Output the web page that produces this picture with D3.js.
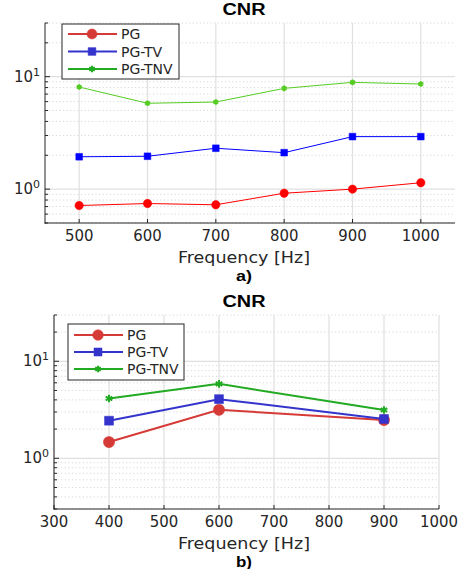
<!DOCTYPE html>
<html>
<head>
<meta charset="utf-8">
<script src="https://cdn.jsdelivr.net/npm/d3@7"></script>
<style>
  body { margin: 0; background: #fff; }
  text { font-family: "DejaVu Sans", sans-serif; fill: #262626; }
</style>
</head>
<body>
<svg id="chart" width="464" height="569"></svg>
<script>
// panel a)
var freqA = [500, 600, 700, 800, 900, 1000];
var pgA = [0.715, 0.745, 0.726, 0.92, 1.0, 1.14];
var pgTvA = [1.94, 1.96, 2.31, 2.11, 2.93, 2.93];
var pgTnvA = [8.09, 5.8, 5.95, 7.87, 8.9, 8.6];
var xTicksA = [500, 600, 700, 800, 900, 1000];

// panel b)
var freqB = [400, 600, 900];
var pgB = [1.47, 3.16, 2.48];
var pgTvB = [2.44, 4.07, 2.54];
var pgTnvB = [4.13, 5.85, 3.14];
var xTicksB = [300, 400, 500, 600, 700, 800, 900, 1000];

var seriesNames = ["PG", "PG-TV", "PG-TNV"];
var markers = [d3.symbolCircle, d3.symbolSquare, d3.symbolAsterisk];
var legendColors = ["#d63a36", "#3434cc", "#22aa22"];

var svg = d3.select("#chart");

function drawPanel(opt) {
  var g = svg.append("g");
  var x = d3.scaleLinear().domain(opt.xDomain).range([opt.left, opt.right]);
  var y = d3.scaleLog().domain(opt.yDomain).range([opt.bottom, opt.top]);

  // minor grid
  var minor = [];
  for (var e = -1; e <= 1; e++) {
    for (var m = 2; m <= 9; m++) {
      var v = m * Math.pow(10, e);
      if (v >= opt.yDomain[0] - 1e-9 && v <= opt.yDomain[1] + 1e-9) minor.push(v);
    }
  }
  g.selectAll(".minor").data(minor).enter().append("line")
    .attr("x1", opt.left).attr("x2", opt.right)
    .attr("y1", d => y(d)).attr("y2", d => y(d))
    .attr("stroke", "#d8d8d8").attr("stroke-width", 1)
    .attr("stroke-dasharray", "1.2,2.4");

  // major grid
  g.selectAll(".majy").data([1, 10]).enter().append("line")
    .attr("x1", opt.left).attr("x2", opt.right)
    .attr("y1", d => y(d)).attr("y2", d => y(d))
    .attr("stroke", "#e0e0e0").attr("stroke-width", 1.2);
  g.selectAll(".majx").data(opt.xTicks).enter().append("line")
    .attr("x1", d => x(d)).attr("x2", d => x(d))
    .attr("y1", opt.top).attr("y2", opt.bottom)
    .attr("stroke", "#e0e0e0").attr("stroke-width", 1.2);

  // axes
  g.append("line").attr("x1", opt.left).attr("x2", opt.left)
    .attr("y1", opt.top).attr("y2", opt.bottom + 0.5)
    .attr("stroke", "#262626").attr("stroke-width", 1);
  g.append("line").attr("x1", opt.left - 0.5).attr("x2", opt.right)
    .attr("y1", opt.bottom).attr("y2", opt.bottom)
    .attr("stroke", "#262626").attr("stroke-width", 1);
  g.selectAll(".tx").data(opt.xTicks).enter().append("line")
    .attr("x1", d => x(d)).attr("x2", d => x(d))
    .attr("y1", opt.bottom).attr("y2", opt.bottom - 4)
    .attr("stroke", "#262626");
  g.selectAll(".tym").data(minor).enter().append("line")
    .attr("x1", opt.left).attr("x2", opt.left + 3)
    .attr("y1", d => y(d)).attr("y2", d => y(d))
    .attr("stroke", "#262626");
  g.selectAll(".tyM").data([1, 10]).enter().append("line")
    .attr("x1", opt.left).attr("x2", opt.left + 5)
    .attr("y1", d => y(d)).attr("y2", d => y(d))
    .attr("stroke", "#262626");

  // tick labels are a bit wider than the font in the original picture
  g.selectAll(".xl").data(opt.xTicks).enter().append("text")
    .attr("x", d => x(d)).attr("y", opt.bottom + 18)
    .attr("text-anchor", "middle").attr("font-size", 15)
    .attr("textLength", d => String(d).length * 9.5)
    .attr("lengthAdjust", "spacingAndGlyphs")
    .text(d => d);
  var yl = g.selectAll(".yl").data([[1, "0"], [10, "1"]]).enter().append("text")
    .attr("x", opt.left - 5).attr("y", d => y(d[0]) + 5)
    .attr("text-anchor", "end").attr("font-size", 15);
  yl.append("tspan").text("10");
  yl.append("tspan").attr("dy", -6).attr("font-size", 11).text(d => d[1]);

  g.append("text").attr("x", opt.titleX).attr("y", opt.top - 8)
    .attr("text-anchor", "middle").attr("font-size", 16).attr("font-weight", "bold")
    .attr("textLength", 43).attr("lengthAdjust", "spacingAndGlyphs")
    .style("font-family", "Liberation Sans, Arial, sans-serif").style("fill", "#000")
    .text("CNR");
  g.append("text").attr("x", opt.titleX).attr("y", opt.bottom + 40)
    .attr("text-anchor", "middle").attr("font-size", 15.5)
    .attr("textLength", 132).attr("lengthAdjust", "spacingAndGlyphs")
    .text("Frequency [Hz]");
  g.append("text").attr("x", opt.titleX).attr("y", opt.bottom + 58)
    .attr("text-anchor", "middle").attr("font-size", 15).attr("font-weight", "bold")
    .attr("textLength", 16).attr("lengthAdjust", "spacingAndGlyphs")
    .style("font-family", "Liberation Sans, Arial, sans-serif").style("fill", "#000")
    .text(opt.label);

  // series
  var line = d3.line().x(d => x(d[0])).y(d => y(d[1]));
  opt.series.forEach(function (vals, i) {
    var pts = opt.freq.map((f, k) => [f, vals[k]]);
    g.append("path").datum(pts).attr("d", line)
      .attr("fill", "none").attr("stroke", opt.colors[i]).attr("stroke-width", opt.lineWidth);
    var sym = d3.symbol().type(markers[i]).size(opt.markerSizes[i]);
    g.selectAll(".m" + i).data(pts).enter().append("path")
      .attr("transform", d => "translate(" + x(d[0]) + "," + y(d[1]) + ")")
      .attr("d", sym)
      .attr("fill", i === 2 ? "none" : opt.colors[i])
      .attr("stroke", opt.colors[i])
      .attr("stroke-width", i === 2 ? 2 : 0.5);
  });

  // legend
  var L = opt.legend;
  g.append("rect").attr("x", L.x).attr("y", L.y).attr("width", L.w).attr("height", L.h)
    .attr("fill", "#fff").attr("stroke", "#262626").attr("stroke-width", 1);
  seriesNames.forEach(function (name, i) {
    var yy = L.y + L.first + i * L.step;
    g.append("line").attr("x1", L.x + 6).attr("x2", L.x + 55)
      .attr("y1", yy).attr("y2", yy)
      .attr("stroke", legendColors[i]).attr("stroke-width", 2);
    g.append("path").attr("transform", "translate(" + (L.x + 30) + "," + yy + ")")
      .attr("d", d3.symbol().type(markers[i]).size(L.sizes[i]))
      .attr("fill", i === 2 ? "none" : legendColors[i])
      .attr("stroke", legendColors[i]).attr("stroke-width", i === 2 ? 2.2 : 0.5);
    g.append("text").attr("x", L.x + 59).attr("y", yy + 5)
      .attr("font-size", 14).text(name);
  });
}

drawPanel({
  left: 45, right: 455, top: 23, bottom: 223,
  xDomain: [450, 1050], yDomain: [0.5, 30], xTicks: xTicksA,
  freq: freqA, series: [pgA, pgTvA, pgTnvA],
  colors: ["#ff0000", "#0000ff", "#55cc22"],
  lineWidth: 1, markerSizes: [55, 45, 22],
  titleX: 244, label: "a)",
  legend: { x: 62, y: 24, w: 117, h: 55, first: 10, step: 17.5, sizes: [80, 60, 30] }
});

drawPanel({
  left: 54, right: 439, top: 315, bottom: 509,
  xDomain: [300, 1000], yDomain: [0.3, 30], xTicks: xTicksB,
  freq: freqB, series: [pgB, pgTvB, pgTnvB],
  colors: ["#d63a36", "#3434cc", "#22aa22"],
  lineWidth: 2, markerSizes: [100, 80, 40],
  titleX: 244, label: "b)",
  legend: { x: 68, y: 324, w: 116, h: 56, first: 11, step: 17, sizes: [90, 65, 30] }
});
</script>
</body>
</html>
